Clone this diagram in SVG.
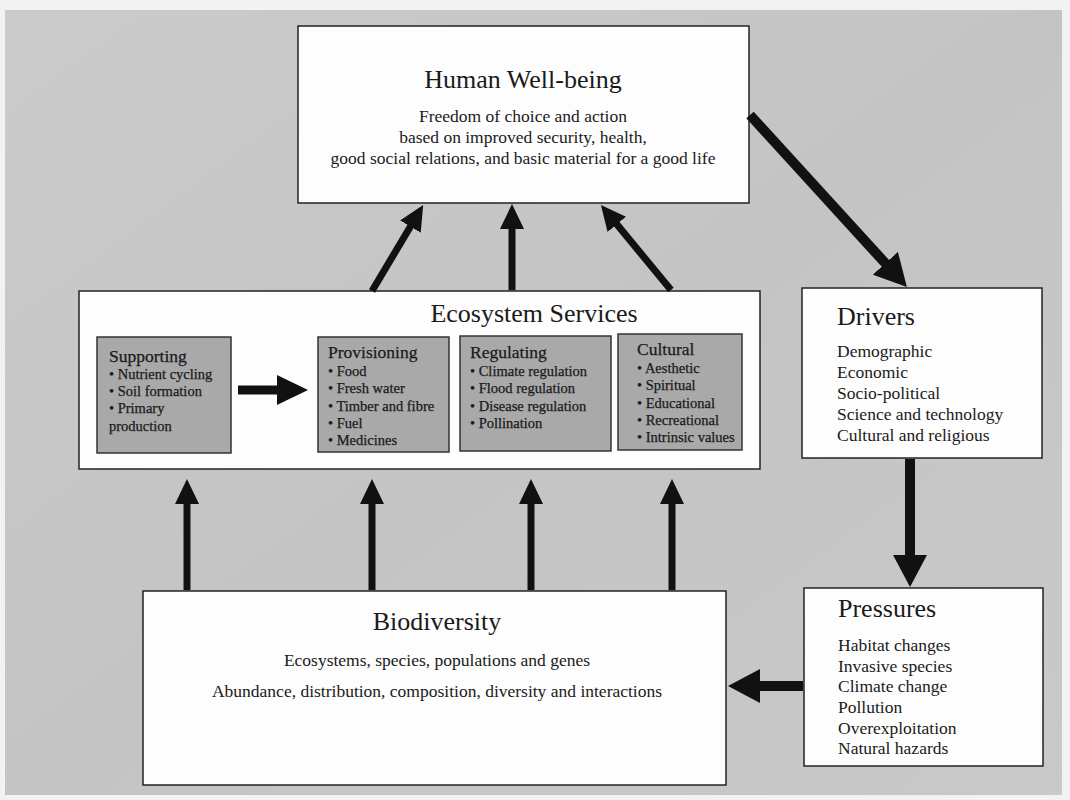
<svg xmlns="http://www.w3.org/2000/svg" width="1070" height="800" viewBox="0 0 1070 800">
<defs>
<linearGradient id="bg" x1="0" y1="0" x2="1" y2="1">
<stop offset="0" stop-color="#cbcbcb"/>
<stop offset="0.5" stop-color="#c4c4c4"/>
<stop offset="1" stop-color="#c9c9c9"/>
</linearGradient>
<marker id="ahThin" markerUnits="userSpaceOnUse" viewBox="0 0 25 24" markerWidth="25" markerHeight="24" refX="1" refY="12" orient="auto">
<path d="M0,0 L25,12 L0,24 Z" fill="#111"/>
</marker>
<marker id="ahThick" markerUnits="userSpaceOnUse" viewBox="0 0 32 34" markerWidth="32" markerHeight="34" refX="1" refY="17" orient="auto">
<path d="M0,0 L32,17 L0,34 Z" fill="#111"/>
</marker>
<marker id="ahMid" markerUnits="userSpaceOnUse" viewBox="0 0 31 30" markerWidth="31" markerHeight="30" refX="1" refY="15" orient="auto">
<path d="M0,0 L31,15 L0,30 Z" fill="#111"/>
</marker>
</defs>
<style>
.box{fill:#fdfdfd;stroke:#222;stroke-width:1.5}
.sub{fill:#a9a9a9;stroke:#333;stroke-width:1.5}
.t{font-family:"Liberation Serif","Times New Roman",serif;fill:#1a1a1a}
.title{font-size:26px}
.txt{font-size:17.5px}
.st{font-size:17.5px;stroke:#1a1a1a;stroke-width:0.25}
.si{font-size:14.5px;stroke:#1a1a1a;stroke-width:0.25}
.thin{stroke:#111;stroke-width:7;fill:none;marker-end:url(#ahThin)}
.thick{stroke:#111;stroke-width:10;fill:none;marker-end:url(#ahThick)}
.mid{stroke:#111;stroke-width:9;fill:none;marker-end:url(#ahMid)}
</style>
<rect x="0" y="0" width="1070" height="800" fill="#f2f2f2"/>
<rect x="5" y="10" width="1057" height="785" fill="url(#bg)"/>

<g id="human-well-being">
<rect class="box" x="298" y="26" width="451" height="177"/>
<text class="t title" x="523" y="88" text-anchor="middle">Human Well-being</text>
<text class="t txt" x="523" y="122" text-anchor="middle">Freedom of choice and action</text>
<text class="t txt" x="523" y="143" text-anchor="middle">based on improved security, health,</text>
<text class="t txt" x="523" y="164" text-anchor="middle">good social relations, and basic material for a good life</text>
</g>

<g id="ecosystem-services">
<rect class="box" x="79" y="291" width="681" height="178"/>
<text class="t title" x="534" y="322" text-anchor="middle">Ecosystem Services</text>
</g>

<g id="supporting">
<rect class="sub" x="97" y="337" width="134" height="116"/>
<text class="t st" x="109" y="362">Supporting</text>
<text class="t si" x="109" y="379">• Nutrient cycling</text>
<text class="t si" x="109" y="396">• Soil formation</text>
<text class="t si" x="109" y="413">• Primary</text>
<text class="t si" x="109" y="431">production</text>
</g>

<g id="provisioning">
<rect class="sub" x="318" y="337" width="131" height="115"/>
<text class="t st" x="328" y="358">Provisioning</text>
<text class="t si" x="328" y="376">• Food</text>
<text class="t si" x="328" y="393">• Fresh water</text>
<text class="t si" x="328" y="410.5">• Timber and fibre</text>
<text class="t si" x="328" y="428">• Fuel</text>
<text class="t si" x="328" y="445">• Medicines</text>
</g>

<g id="regulating">
<rect class="sub" x="460" y="336" width="151" height="115"/>
<text class="t st" x="470" y="358">Regulating</text>
<text class="t si" x="470" y="376">• Climate regulation</text>
<text class="t si" x="470" y="393">• Flood regulation</text>
<text class="t si" x="470" y="410.5">• Disease regulation</text>
<text class="t si" x="470" y="428">• Pollination</text>
</g>

<g id="cultural">
<rect class="sub" x="618" y="334" width="124" height="116"/>
<text class="t st" x="637" y="355">Cultural</text>
<text class="t si" x="637" y="373">• Aesthetic</text>
<text class="t si" x="637" y="390">• Spiritual</text>
<text class="t si" x="637" y="408">• Educational</text>
<text class="t si" x="637" y="425">• Recreational</text>
<text class="t si" x="637" y="442">• Intrinsic values</text>
</g>

<g id="drivers">
<rect class="box" x="802" y="288" width="240" height="170"/>
<text class="t title" x="837" y="325">Drivers</text>
<text class="t txt" x="837" y="357">Demographic</text>
<text class="t txt" x="837" y="378">Economic</text>
<text class="t txt" x="837" y="399">Socio-political</text>
<text class="t txt" x="837" y="420">Science and technology</text>
<text class="t txt" x="837" y="441">Cultural and religious</text>
</g>

<g id="pressures">
<rect class="box" x="804" y="588" width="239" height="178"/>
<text class="t title" x="838" y="617">Pressures</text>
<text class="t txt" x="838" y="651">Habitat changes</text>
<text class="t txt" x="838" y="672">Invasive species</text>
<text class="t txt" x="838" y="692">Climate change</text>
<text class="t txt" x="838" y="713">Pollution</text>
<text class="t txt" x="838" y="734">Overexploitation</text>
<text class="t txt" x="838" y="754">Natural hazards</text>
</g>

<g id="biodiversity">
<rect class="box" x="143" y="591" width="583" height="194"/>
<text class="t title" x="437" y="630" text-anchor="middle">Biodiversity</text>
<text class="t txt" x="437" y="666" text-anchor="middle">Ecosystems, species, populations and genes</text>
<text class="t txt" x="437" y="697" text-anchor="middle">Abundance, distribution, composition, diversity and interactions</text>
</g>

<g id="connectors">
<line class="thin" x1="372" y1="291" x2="410.9" y2="225.7"/>
<line class="thin" x1="512" y1="290" x2="512" y2="228"/>
<line class="thin" x1="671" y1="290" x2="616.2" y2="223.6"/>
<line class="thick" x1="750" y1="115" x2="886" y2="264"/>
<line class="thick" x1="910" y1="459" x2="910" y2="556"/>
<line class="thick" x1="803" y1="686" x2="759" y2="686"/>
<line class="mid" x1="238" y1="390" x2="278" y2="390"/>
<line class="thin" x1="187" y1="590" x2="187" y2="503"/>
<line class="thin" x1="372" y1="590" x2="372" y2="503"/>
<line class="thin" x1="531" y1="590" x2="531" y2="503"/>
<line class="thin" x1="672" y1="590" x2="672" y2="503"/>
</g>
</svg>
